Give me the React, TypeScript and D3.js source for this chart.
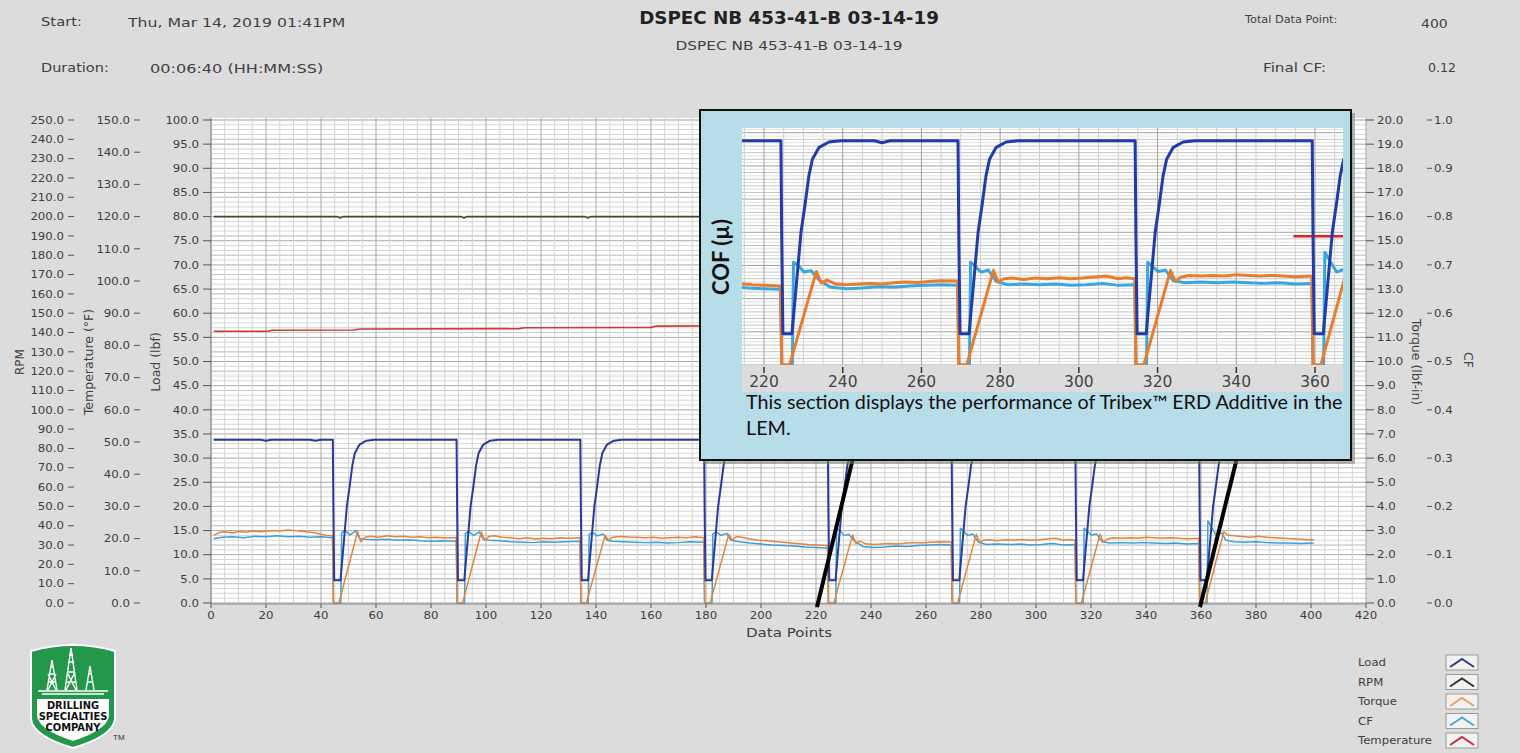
import React from "react";
import * as d3 from "d3";

// ---- data (x = data point) ----
// load in lbf (left axis 0-100)
const loadData: [number, number][] = [
  [1, 33.8], [18, 33.8], [20, 33.6], [22, 33.8], [36, 33.8], [38, 33.6], [40, 33.8],
  [44.3, 33.8], [44.5, 19.2], [44.8, 4.7], [47.1, 4.7], [48.4, 13.3], [49.4, 20], [50.5, 24.5], [51.4, 28.5], [52.3, 31], [54, 32.8], [56.5, 33.6], [59.5, 33.8],
  [89.3, 33.8], [89.5, 19.2], [89.8, 4.7], [92.1, 4.7], [93.4, 13.3], [94.4, 20], [95.5, 24.5], [96.4, 28.5], [97.3, 31], [99, 32.8], [101.5, 33.6], [104.5, 33.8],
  [134.3, 33.8], [134.5, 19.2], [134.8, 4.7], [137.1, 4.7], [138.4, 13.3], [139.4, 20], [140.5, 24.5], [141.4, 28.5], [142.3, 31], [144, 32.8], [146.5, 33.6], [149.5, 33.8],
  [179.3, 33.8], [179.5, 19.2], [179.8, 4.7], [182.1, 4.7], [183.4, 13.3], [184.4, 20], [185.5, 24.5], [186.4, 28.5], [187.3, 31], [189, 32.8], [191.5, 33.6], [194.5, 33.8],
  [224.3, 33.8], [224.5, 19.2], [224.8, 4.7], [227.1, 4.7], [228.4, 13.3], [229.4, 20], [230.5, 24.5], [231.4, 28.5], [232.3, 31], [234, 32.8], [236.5, 33.6], [239.5, 33.8],
  [248, 33.8], [250, 33.5], [252, 33.8],
  [269.3, 33.8], [269.5, 19.2], [269.8, 4.7], [272.1, 4.7], [273.4, 13.3], [274.4, 20], [275.5, 24.5], [276.4, 28.5], [277.3, 31], [279, 32.8], [281.5, 33.6], [284.5, 33.8],
  [314.3, 33.8], [314.5, 19.2], [314.8, 4.7], [317.1, 4.7], [318.4, 13.3], [319.4, 20], [320.5, 24.5], [321.4, 28.5], [322.3, 31], [324, 32.8], [326.5, 33.6], [329.5, 33.8],
  [359.3, 33.8], [359.5, 19.2], [359.8, 4.7], [362.1, 4.7], [363.4, 13.3], [364.4, 20], [365.5, 24.5], [366.4, 28.5], [367.3, 31], [369, 32.8], [371.5, 33.6], [374.5, 33.8],
  [401, 33.8],
];

// torque in lbf-in (right axis 0-20)
const torqueData: [number, number][] = [
  [1, 2.8], [3, 2.92], [5, 2.95], [8, 2.9], [10, 2.96], [13, 2.93], [15, 2.98], [18, 2.95], [20, 2.97], [23, 3.0], [25, 2.98], [28, 3.02], [30, 3.0], [33, 2.97], [35, 2.95], [38, 2.9], [40, 2.85], [42, 2.8], [44.2, 2.77],
  [44.5, 0], [46.5, 0], [53.3, 2.95], [54.5, 2.54], [56, 2.72], [58, 2.76], [61, 2.72], [64, 2.78], [67, 2.74], [70, 2.76], [73, 2.72], [76, 2.74], [79, 2.7], [82, 2.72], [85, 2.69], [89.2, 2.71],
  [89.5, 0], [91.5, 0], [98.3, 2.95], [99.5, 2.6], [101, 2.75], [103, 2.78], [106, 2.72], [109, 2.7], [112, 2.66], [115, 2.7], [118, 2.65], [121, 2.68], [124, 2.66], [127, 2.7], [130, 2.68], [134.2, 2.7],
  [134.5, 0], [136.5, 0], [143.3, 2.8], [144.5, 2.6], [146, 2.72], [149, 2.75], [152, 2.73], [155, 2.72], [158, 2.7], [161, 2.72], [164, 2.68], [167, 2.7], [170, 2.72], [173, 2.7], [176, 2.74], [179.2, 2.7],
  [179.5, 0], [181.5, 0], [188.3, 2.85], [189.5, 2.6], [191, 2.75], [193, 2.72], [196, 2.65], [199, 2.6], [202, 2.58], [205, 2.55], [208, 2.52], [211, 2.48], [214, 2.45], [217, 2.42], [220, 2.4], [224.2, 2.38],
  [224.5, 0], [226.5, 0], [233.3, 2.82], [234.5, 2.47], [236, 2.56], [238, 2.45], [241, 2.42], [244, 2.44], [247, 2.46], [250, 2.44], [253, 2.48], [256, 2.5], [259, 2.49], [262, 2.52], [265, 2.54], [269.2, 2.53],
  [269.5, 0], [271.5, 0], [278.3, 2.85], [279.5, 2.5], [281, 2.6], [283, 2.62], [286, 2.58], [289, 2.62], [292, 2.6], [295, 2.63], [298, 2.6], [301, 2.62], [304, 2.65], [307, 2.68], [310, 2.6], [312, 2.63], [314.2, 2.6],
  [314.5, 0], [316.5, 0], [323.3, 2.85], [324.5, 2.52], [326, 2.65], [328, 2.7], [331, 2.68], [334, 2.7], [337, 2.68], [340, 2.72], [343, 2.7], [346, 2.68], [349, 2.7], [352, 2.68], [355, 2.66], [359.2, 2.68],
  [359.5, 0], [361.5, 0], [368.3, 2.95], [369.5, 2.82], [372, 2.78], [375, 2.75], [378, 2.72], [381, 2.76], [384, 2.72], [387, 2.7], [390, 2.68], [393, 2.66], [396, 2.64], [399, 2.62], [401, 2.62],
];

// coefficient of friction (right axis 0-1)
const cfData: [number, number][] = [
  [1, 0.133], [4, 0.136], [8, 0.137], [12, 0.135], [16, 0.138], [20, 0.137], [24, 0.139], [28, 0.137], [32, 0.138], [36, 0.136], [40, 0.137], [44.2, 0.135],
  [44.5, 0], [47.2, 0], [47.5, 0.145], [48.7, 0.15], [50.5, 0.141], [52.6, 0.149], [54, 0.133], [56, 0.132], [60, 0.131], [64, 0.132], [68, 0.13], [72, 0.131], [76, 0.129], [80, 0.128], [84, 0.129], [89.2, 0.128],
  [89.5, 0], [92.2, 0], [92.5, 0.144], [93.7, 0.148], [95.5, 0.14], [97.6, 0.147], [99, 0.132], [101, 0.13], [105, 0.129], [109, 0.127], [113, 0.126], [117, 0.125], [121, 0.127], [125, 0.126], [129, 0.127], [134.2, 0.128],
  [134.5, 0], [137.2, 0], [137.5, 0.142], [138.7, 0.146], [140.5, 0.139], [142.6, 0.143], [144, 0.13], [146, 0.128], [150, 0.127], [154, 0.126], [158, 0.125], [162, 0.126], [166, 0.124], [170, 0.125], [174, 0.127], [179.2, 0.126],
  [179.5, 0], [182.2, 0], [182.5, 0.143], [183.7, 0.147], [185.5, 0.14], [187.6, 0.144], [189, 0.13], [192, 0.127], [196, 0.124], [200, 0.122], [204, 0.12], [208, 0.119], [212, 0.118], [216, 0.116], [220, 0.115], [224.2, 0.114],
  [224.5, 0], [227.2, 0], [227.5, 0.155], [228.7, 0.15], [230.2, 0.14], [232, 0.142], [234, 0.128], [237, 0.117], [241, 0.115], [245, 0.116], [249, 0.118], [253, 0.117], [257, 0.119], [261, 0.12], [265, 0.121], [269.2, 0.12],
  [269.5, 0], [272.2, 0], [272.5, 0.155], [273.7, 0.148], [275.2, 0.14], [277, 0.143], [279, 0.126], [282, 0.121], [286, 0.122], [290, 0.121], [294, 0.122], [298, 0.12], [302, 0.121], [306, 0.123], [310, 0.12], [314.2, 0.121],
  [314.5, 0], [317.2, 0], [317.5, 0.155], [318.7, 0.148], [320.2, 0.141], [322, 0.143], [324, 0.127], [327, 0.124], [331, 0.125], [335, 0.124], [339, 0.125], [343, 0.124], [347, 0.123], [351, 0.124], [355, 0.122], [359.2, 0.123],
  [359.5, 0], [362.2, 0], [362.5, 0.17], [363.7, 0.158], [365.5, 0.14], [367.6, 0.145], [369, 0.13], [372, 0.127], [376, 0.126], [380, 0.127], [384, 0.125], [388, 0.124], [392, 0.124], [396, 0.123], [401, 0.124],
];

// RPM (left axis 0-250)
const rpmData: [number, number][] = [
  [1, 200], [46, 200], [47, 199.3], [48, 200], [91, 200], [92, 199.3], [93, 200],
  [136, 200], [137, 199.3], [138, 200], [181, 200], [182, 199.3], [183, 200],
  [226, 200], [227, 199.3], [228, 200], [271, 200], [272, 199.3], [273, 200],
  [316, 200], [317, 199.3], [318, 200], [361, 200], [362, 199.3], [363, 200], [401, 200],
];

// temperature in °F (left axis 0-150)
const tempData: [number, number][] = [
  [1, 84.4], [21, 84.4], [22, 84.7], [52, 84.8], [54, 85.1], [112, 85.2], [114, 85.5], [160, 85.6], [162, 86.0],
  [210, 86.2], [260, 86.7], [320, 87.1], [401, 87.5],
];

// short red marker visible in the zoomed inset (load-equivalent units)
const insetMarkData: [number, number][] = [[354.5, 19.4], [368, 19.4]];

const xTicks = d3.range(0, 421, 20);
const insetXTicks = d3.range(220, 361, 20);
const rpmTicks = d3.range(0, 251, 10);
const tempTicks = d3.range(0, 151, 10);
const loadTicks = d3.range(0, 101, 5);
const torqueTicks = d3.range(0, 21, 1);
const cfTicks = d3.range(0, 1.01, 0.1);

const legendItems = [
  { name: "Load", color: "#2d3c8f" },
  { name: "RPM", color: "#2e3a22" },
  { name: "Torque", color: "#e9a162" },
  { name: "CF", color: "#4aa8d8" },
  { name: "Temperature", color: "#c8303a" },
];

const UI = "DejaVu Sans, Verdana, sans-serif";
const TXT = "#404040";

// the source screenshot is stretched sideways, so horizontal text gets a scaleX
function T(props: any) {
  const { x, y, s = 1, children, ...rest } = props;
  return (
    <text transform={`translate(${x},${y}) scale(${s},1)`} {...rest}>
      {children}
    </text>
  );
}

export default function App() {
  const x = d3.scaleLinear().domain([0, 420]).range([211, 1366]);
  const yLoad = d3.scaleLinear().domain([0, 100]).range([603, 120]);
  const yRpm = d3.scaleLinear().domain([0, 250]).range([603, 120]);
  const yTemp = d3.scaleLinear().domain([0, 150]).range([603, 120]);
  const yTorque = d3.scaleLinear().domain([0, 20]).range([603, 120]);
  const yCf = d3.scaleLinear().domain([0, 1]).range([603, 120]);

  const line = (ys: d3.ScaleLinear<number, number>) =>
    d3.line<[number, number]>().x((d) => x(d[0])).y((d) => ys(d[1]));

  // inset: zoom of data points 215-367, load 0-35.7
  const ix = d3.scaleLinear().domain([220, 360]).range([764, 1315]);
  const iy = d3.scaleLinear().domain([0, 33.8]).range([365, 140.7]);
  const iyTorque = d3.scaleLinear().domain([0, 33.8 / 5]).range([365, 140.7]);
  const iyCf = d3.scaleLinear().domain([0, 0.338]).range([365, 140.7]);
  const iline = (ys: d3.ScaleLinear<number, number>) =>
    d3.line<[number, number]>().x((d) => ix(d[0])).y((d) => ys(d[1]));

  const plotL = 211, plotR = 1366, plotT = 118, plotB = 604;
  const inL = 742, inR = 1343, inT = 128, inB = 365;
  const ts = 1.12; // tick label stretch

  return (
    <svg width={1520} height={753} style={{ position: "fixed", left: 0, top: 0, background: "#dcdcdc" }}>
      <defs>
        <clipPath id="mainClip"><rect x={plotL} y={plotT} width={plotR - plotL} height={plotB - plotT} /></clipPath>
        <clipPath id="insetClip"><rect x={inL} y={inT} width={inR - inL} height={inB - inT} /></clipPath>
      </defs>
      <rect x={0} y={0} width={1520} height={753} fill="#dcdcdc" />

      {/* header */}
      <g fontFamily={UI} fill={TXT}>
        <T x={41} y={26} s={1.18} fontSize={12.5}>Start:</T>
        <T x={128} y={27} s={1.21} fontSize={13}>Thu, Mar 14, 2019 01:41PM</T>
        <T x={41} y={72} s={1.16} fontSize={12.5}>Duration:</T>
        <T x={150} y={73} s={1.24} fontSize={13}>00:06:40 (HH:MM:SS)</T>
        <T x={789} y={24} s={1.075} fontSize={17} fontWeight="bold" textAnchor="middle" fill="#222">DSPEC NB 453-41-B 03-14-19</T>
        <T x={789} y={50} s={1.18} fontSize={13} textAnchor="middle">DSPEC NB 453-41-B 03-14-19</T>
        <T x={1245} y={23} s={1.13} fontSize={10}>Total Data Point:</T>
        <T x={1421} y={28} s={1.12} fontSize={12.5}>400</T>
        <T x={1263} y={72} s={1.17} fontSize={13}>Final CF:</T>
        <T x={1428} y={72} s={1.05} fontSize={12}>0.12</T>
      </g>

      {/* plot background + grid */}
      <rect x={plotL} y={plotT} width={plotR - plotL} height={plotB - plotT} fill="#ffffff" />
      <g>
        {d3.range(0, 100.01, 1).map((v) => (
          <line key={"hl" + v} x1={plotL} x2={plotR} y1={yLoad(v)} y2={yLoad(v)}
            stroke={v % 5 === 0 ? "#a9a9a9" : "#d6d6d6"} strokeWidth={1} />
        ))}
        {rpmTicks.map((v) => (
          <line key={"hr" + v} x1={plotL} x2={plotR} y1={yRpm(v)} y2={yRpm(v)} stroke="#c9c9c9" strokeWidth={1} />
        ))}
        {d3.range(0, 421, 5).map((v) => (
          <line key={"vl" + v} x1={x(v)} x2={x(v)} y1={plotT} y2={plotB}
            stroke={v % 20 === 0 ? "#a9a9a9" : "#d3d3d3"} strokeWidth={1} />
        ))}
      </g>

      {/* series */}
      <g clipPath="url(#mainClip)" fill="none" strokeLinejoin="round">
        <path d={line(yTemp)(tempData)!} stroke="#d23a32" strokeWidth={1.6} />
        <path d={line(yRpm)(rpmData)!} stroke="#434d2e" strokeWidth={1.6} />
        <path d={line(yCf)(cfData)!} stroke="#3b9fd9" strokeWidth={1.5} />
        <path d={line(yTorque)(torqueData)!} stroke="#e5843a" strokeWidth={1.5} />
        <path d={line(yLoad)(loadData)!} stroke="#29399c" strokeWidth={2} />
      </g>

      {/* axis lines */}
      <line x1={plotL} x2={plotL} y1={plotT} y2={plotB} stroke="#888" />
      <line x1={plotL} x2={plotR} y1={plotB} y2={plotB} stroke="#888" />

      {/* axes */}
      <g fontFamily={UI} fontSize={10.5} fill={TXT}>
        {rpmTicks.map((v) => (
          <g key={"rt" + v}>
            <T x={64} y={yRpm(v) + 3.7} s={ts} textAnchor="end">{v.toFixed(1)}</T>
            <line x1={68} x2={74} y1={yRpm(v)} y2={yRpm(v)} stroke="#555" />
          </g>
        ))}
        {tempTicks.map((v) => (
          <g key={"tt" + v}>
            <T x={130} y={yTemp(v) + 3.7} s={ts} textAnchor="end">{v.toFixed(1)}</T>
            <line x1={134} x2={140} y1={yTemp(v)} y2={yTemp(v)} stroke="#555" />
          </g>
        ))}
        {loadTicks.map((v) => (
          <g key={"lt" + v}>
            <T x={199} y={yLoad(v) + 3.7} s={ts} textAnchor="end">{v.toFixed(1)}</T>
            <line x1={203} x2={211} y1={yLoad(v)} y2={yLoad(v)} stroke="#555" />
          </g>
        ))}
        {torqueTicks.map((v) => (
          <g key={"qt" + v}>
            <line x1={1366} x2={1374} y1={yTorque(v)} y2={yTorque(v)} stroke="#555" />
            <T x={1377} y={yTorque(v) + 3.7} s={ts}>{v.toFixed(1)}</T>
          </g>
        ))}
        {cfTicks.map((v) => (
          <g key={"ct" + v}>
            <line x1={1427} x2={1432} y1={yCf(v)} y2={yCf(v)} stroke="#555" />
            <T x={1434} y={yCf(v) + 3.7} s={ts}>{v.toFixed(1)}</T>
          </g>
        ))}
        {xTicks.map((v) => (
          <g key={"xt" + v}>
            <line x1={x(v)} x2={x(v)} y1={plotB} y2={plotB + 4} stroke="#555" />
            <T x={x(v)} y={619} s={ts} textAnchor="middle">{v}</T>
          </g>
        ))}
      </g>

      {/* axis titles */}
      <g fontFamily={UI} fill={TXT} fontSize={12.5}>
        <text transform="translate(24,362) rotate(-90)" textAnchor="middle" fontSize={12}>RPM</text>
        <text transform="translate(93,362) rotate(-90)" textAnchor="middle">Temperature (°F)</text>
        <text transform="translate(160,362) rotate(-90)" textAnchor="middle">Load (lbf)</text>
        <text transform="translate(1412,362) rotate(90)" textAnchor="middle">Torque (lbf-in)</text>
        <text transform="translate(1464,360) rotate(90)" textAnchor="middle">CF</text>
        <T x={789} y={637} s={1.16} textAnchor="middle" fontSize={13}>Data Points</T>
      </g>

      {/* callout lines */}
      <line x1={x(220) + 1} y1={607} x2={x(220) + 37} y2={458} stroke="#000" strokeWidth={4} />
      <line x1={x(360) - 1} y1={607} x2={x(360) + 36} y2={458} stroke="#000" strokeWidth={4} />

      {/* inset */}
      <rect x={703} y={113} width={652} height={351} fill="#7a7a7a" opacity={0.55} />
      <rect x={700} y={110} width={651} height={350} fill="#b7dde8" stroke="#111" strokeWidth={2} />
      <rect x={inL} y={inT} width={inR - inL} height={inB - inT} fill="#fff" />
      <g>
        {d3.range(0, 35.7, 0.5).map((v) => (
          <line key={"ih" + v} x1={inL} x2={inR} y1={iy(v)} y2={iy(v)}
            stroke={v % 5 === 0 ? "#a0a0a0" : v % 1 === 0 ? "#c4c4c4" : "#e0e0e0"} />
        ))}
        {d3.range(215, 368, 5).map((v) => (
          <line key={"iv" + v} x1={ix(v)} x2={ix(v)} y1={inT} y2={inB}
            stroke={v % 20 === 0 ? "#a0a0a0" : "#d0d0d0"} />
        ))}
      </g>
      <g clipPath="url(#insetClip)" fill="none" strokeLinejoin="round">
        <path d={iline(iy)(insetMarkData)!} stroke="#e0201c" strokeWidth={2.5} />
        <path d={iline(iyCf)(cfData)!} stroke="#38a6df" strokeWidth={3} />
        <path d={iline(iyTorque)(torqueData)!} stroke="#ea7d2c" strokeWidth={3} />
        <path d={iline(iy)(loadData)!} stroke="#1f3ca8" strokeWidth={3} />
      </g>
      <rect x={inL} y={inB} width={inR - inL} height={27} fill="#dcdcdc" />
      <g fontFamily={UI} fontSize={15.5} fill="#444">
        {insetXTicks.map((v) => (
          <g key={"ixt" + v}>
            <line x1={ix(v)} x2={ix(v)} y1={inB + 2} y2={inB + 8} stroke="#333" strokeWidth={1.5} />
            <text x={ix(v)} y={387} textAnchor="middle">{v}</text>
          </g>
        ))}
      </g>
      <text transform="translate(729,257) rotate(-90)" textAnchor="middle" fontFamily="Lato, Open Sans, sans-serif"
        fontWeight="bold" fontSize={22} fill="#111">COF (µ)</text>
      <g fontFamily="Lato, Open Sans, sans-serif" fontSize={18.5} fill="#111">
        <T x={746} y={409} s={1.07}>This section displays the performance of Tribex™ ERD Additive in the</T>
        <T x={746} y={435} s={1.07}>LEM.</T>
      </g>

      {/* legend */}
      <g fontFamily={UI} fontSize={10} fill={TXT}>
        {legendItems.map((it, i) => {
          const yy = 655 + i * 19.5;
          return (
            <g key={it.name}>
              <T x={1358} y={yy + 11} s={1.17}>{it.name}</T>
              <rect x={1446} y={yy} width={32} height={15} fill="#f2f2f2" stroke="#9a9a9a" />
              <polyline points={`${1450},${yy + 12} ${1462},${yy + 4} ${1474},${yy + 12}`} fill="none"
                stroke={it.color} strokeWidth={2} />
            </g>
          );
        })}
      </g>

      {/* logo */}
      <g>
        <path d="M31,651 Q73,639 115,651 L115,719 Q113,736 73,748 Q33,736 31,719 Z" fill="#23984b" stroke="#fff" strokeWidth={2} />
        <path d="M37,699 L109,699 L109,716 Q107,730 73,741 Q39,730 37,716 Z" fill="#fff" />
        <g stroke="#fff" fill="none" strokeWidth={1.4}>
          <path d="M47,690 L52,660 L57,690 M48,682 L56,682 M49,674 L55,674 M50,667 L54,667 M48,690 L56,674 M56,690 L48,674" />
          <path d="M65,690 L71,648 L77,690 M66,682 L76,682 M67,672 L75,672 M68,662 L74,662 M69,655 L73,655 M66,690 L75,672 M76,690 L67,672" />
          <path d="M86,690 L90,666 L94,690 M87,682 L93,682 M88,674 L92,674" />
          <path d="M38,691 L108,691 M42,694 L104,694" />
        </g>
        <g fontFamily="Liberation Sans Narrow, DejaVu Sans Condensed, Arial Narrow, sans-serif" fontWeight="bold"
          fontSize={11} fill="#111" textAnchor="middle">
          <text x={73} y={709}>DRILLING</text>
          <text x={73} y={720}>SPECIALTIES</text>
          <text x={73} y={731}>COMPANY</text>
        </g>
        <text x={113} y={740} fontFamily="Liberation Sans, Arial, sans-serif" fontSize={8} fill="#333">TM</text>
      </g>
    </svg>
  );
}
